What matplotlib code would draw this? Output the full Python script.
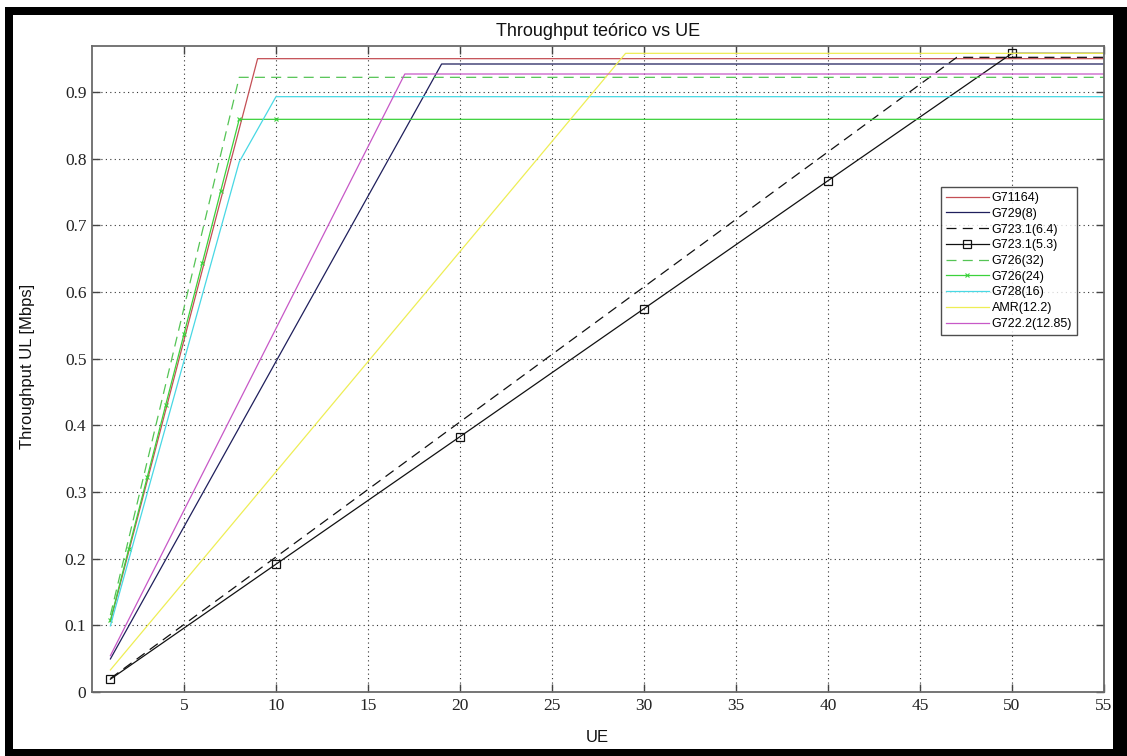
import matplotlib
matplotlib.use("Agg")
import matplotlib.pyplot as plt
from matplotlib.patches import Rectangle

W, H, DPI = 1127, 756, 100

# ---- data ----
labels = ["G71164)", "G729(8)", "G723.1(6.4)", "G723.1(5.3)", "G726(32)",
          "G726(24)", "G728(16)", "AMR(12.2)", "G722.2(12.85)"]

x_g711 = [1, 9, 55]
y_g711 = [0.1056, 0.950, 0.950]

x_g729 = [1, 19, 55]
y_g729 = [0.0496, 0.942, 0.942]

x_g723_64 = [1, 47, 55]
y_g723_64 = [0.0203, 0.952, 0.952]

x_g723_53 = [1, 10, 20, 30, 40, 50, 55]
y_g723_53 = [0.0192, 0.1917, 0.383, 0.575, 0.767, 0.958, 0.958]

x_g726_32 = [1, 8, 55]
y_g726_32 = [0.1153, 0.922, 0.922]

x_g726_24 = [1, 2, 3, 4, 5, 6, 7, 8, 10, 55]
y_g726_24 = [0.1074, 0.215, 0.322, 0.430, 0.537, 0.644, 0.752, 0.859, 0.859, 0.859]

x_g728 = [1, 8, 10, 55]
y_g728 = [0.0993, 0.795, 0.893, 0.893]

x_amr = [1, 29, 55]
y_amr = [0.0331, 0.958, 0.958]

x_g722 = [1, 17, 55]
y_g722 = [0.0545, 0.927, 0.927]

x_ticks = [5, 10, 15, 20, 25, 30, 35, 40, 45, 50, 55]
y_ticks = [0, 0.1, 0.2, 0.3, 0.4, 0.5, 0.6, 0.7, 0.8, 0.9]
y_ticklabels = ["0", "0.1", "0.2", "0.3", "0.4", "0.5", "0.6", "0.7", "0.8", "0.9"]

title = "Throughput teórico vs UE"
xlabel = "UE"
ylabel = "Throughput UL [Mbps]"

# ---- figure ----
fig = plt.figure(figsize=(W / DPI, H / DPI), dpi=DPI)
fig.patch.set_facecolor("white")

def px_rect(x0, y0, x1, y1):
    fig.patches.append(Rectangle((x0 / W, 1 - y1 / H), (x1 - x0) / W, (y1 - y0) / H,
                                 transform=fig.transFigure, facecolor="black",
                                 edgecolor="none", zorder=10))

# thick black frame
px_rect(5, 7, 1127, 15)
px_rect(5, 7, 13, 756)
px_rect(1113, 7, 1127, 756)
px_rect(5, 749, 1127, 756)

ax_l, ax_r, ax_t, ax_b = 92, 1104, 46, 692
ax = fig.add_axes([ax_l / W, 1 - ax_b / H, (ax_r - ax_l) / W, (ax_b - ax_t) / H])

lw = 0.9
ax.plot(x_g711, y_g711, color="#c44f55", lw=lw, label=labels[0])
ax.plot(x_g729, y_g729, color="#1f1f5c", lw=lw, label=labels[1])
ax.plot(x_g723_64, y_g723_64, color="#111111", lw=lw, dashes=(8, 5), label=labels[2])
ax.plot(x_g723_53, y_g723_53, color="#111111", lw=lw, marker="s", markersize=6,
        markerfacecolor="none", markeredgecolor="#111111", markeredgewidth=0.9,
        markevery=slice(0, 6), label=labels[3])
ax.plot(x_g726_32, y_g726_32, color="#55c455", lw=lw, dashes=(8, 5), label=labels[4])
ax.plot(x_g726_24, y_g726_24, color="#3cd23c", lw=lw, marker="x", markersize=3.5,
        markeredgewidth=0.8, markevery=slice(0, 9), label=labels[5])
ax.plot(x_g728, y_g728, color="#48d8e4", lw=lw, label=labels[6])
ax.plot(x_amr, y_amr, color="#eeee55", lw=lw, label=labels[7])
ax.plot(x_g722, y_g722, color="#c758c7", lw=lw, label=labels[8])

ax.set_xlim(0, 55)
ax.set_ylim(0, 0.969)
ax.set_xticks(x_ticks)
ax.set_yticks(y_ticks)
ax.set_yticklabels(y_ticklabels)

tick_font = dict(family=["Liberation Serif", "DejaVu Serif"], size=12.5)
for lab in ax.get_xticklabels() + ax.get_yticklabels():
    lab.set_fontfamily(tick_font["family"])
    lab.set_fontsize(tick_font["size"])
    lab.set_color("#222222")

ax.tick_params(direction="in", length=6, width=1.0, color="#444444",
               top=True, right=True, pad=4)
ax.grid(True, linestyle=(0, (1, 3)), color="#333333", linewidth=0.8)
for sp in ax.spines.values():
    sp.set_color("#6a6a6a")
    sp.set_linewidth(1.3)

ax.set_title(title, fontsize=13, family=["Liberation Sans", "DejaVu Sans"],
             pad=7, color="#111111")
fig.text(597 / W, 1 - 738 / H, xlabel, ha="center", va="center", fontsize=12,
         family=["Liberation Sans", "DejaVu Sans"], color="#111111")
fig.text(28 / W, 1 - 366 / H, ylabel, ha="center", va="center", rotation=90,
         fontsize=12, family=["Liberation Sans", "DejaVu Sans"], color="#111111")

leg = ax.legend(loc="upper left", bbox_to_anchor=(941 / W, 1 - 187 / H),
                bbox_transform=fig.transFigure, frameon=True, fancybox=False,
                prop={"family": ["Liberation Sans", "DejaVu Sans"], "size": 9},
                handlelength=3.4, handletextpad=0.25, labelspacing=0.3,
                borderpad=0.4, borderaxespad=0, numpoints=1)
leg.get_frame().set_edgecolor("#222222")
leg.get_frame().set_linewidth(1.0)

fig.savefig("out.png", dpi=DPI, facecolor="white")
